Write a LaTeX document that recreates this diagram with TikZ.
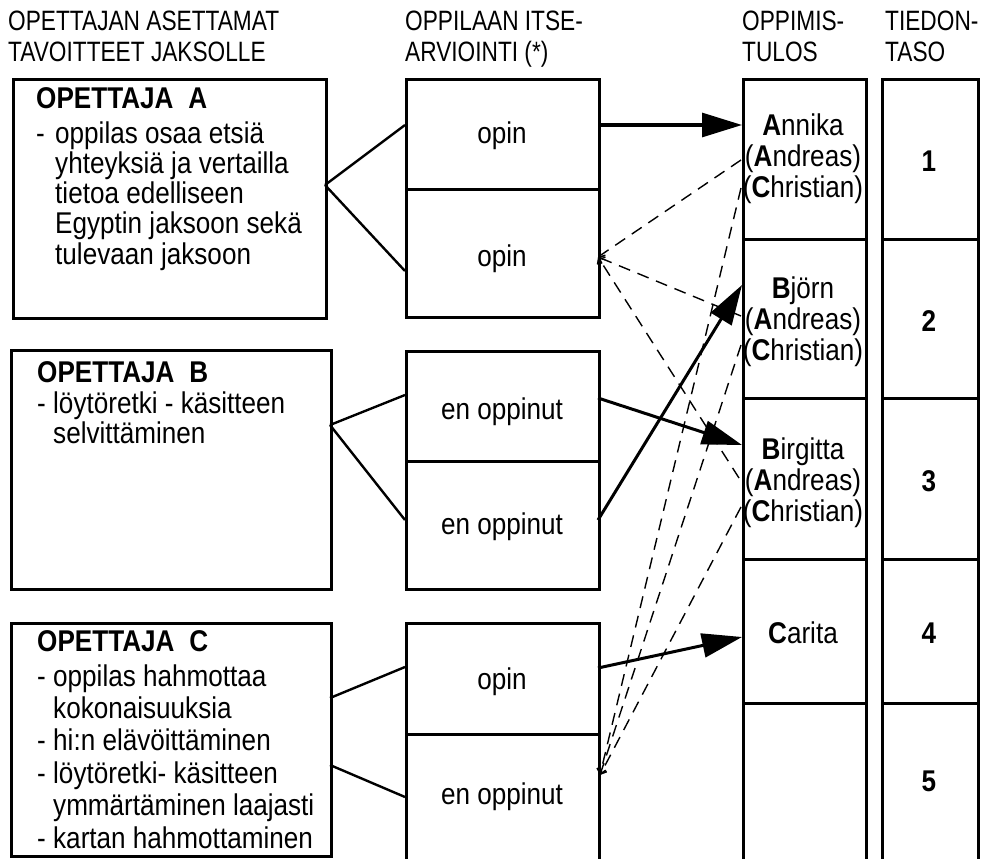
\documentclass[tikz,border=0pt]{standalone}
\usepackage{fontspec}
\setmainfont{Liberation Sans}[FakeStretch=0.87]
\newfontfamily\hdfont{Liberation Sans}[FakeStretch=0.81]
\usetikzlibrary{arrows.meta}

\begin{document}
\begin{tikzpicture}[x=1pt,y=-1pt,
  frame/.style={draw, line width=2.6pt, inner sep=0pt, anchor=north west},
  head/.style={font=\hdfont\fontsize{28}{31}\selectfont, anchor=base west, inner sep=0pt, align=left},
  body/.style={anchor=base west, inner sep=0pt, align=left},
  mid/.style={font=\fontsize{30}{31}\selectfont, anchor=base, inner sep=0pt},
  res/.style={font=\fontsize{30}{31}\selectfont, anchor=base, inner sep=0pt, align=center},
  lvl/.style={font=\bfseries\fontsize{30}{31}\selectfont, anchor=base, inner sep=0pt},
  link/.style={line width=2.4pt},
  big/.style={line width=3pt, -{Triangle[length=40pt,width=24pt]}},
  trace/.style={line width=1.4pt, dash pattern=on 12pt off 8pt, -{Straight Barb[length=5pt,width=9pt]}},
]
\useasboundingbox (0,0) rectangle (997,859);

% column headings (anchored at the baseline of their last line)
\node[head] (hgoal) at (8,62) {OPETTAJAN ASETTAMAT\\TAVOITTEET JAKSOLLE};
\node[head] (hself) at (405,62) {OPPILAAN ITSE-\\ARVIOINTI (*)};
\node[head] (hres) at (742,62) {OPPIMIS-\\TULOS};
\node[head] (hlvl) at (885,62) {TIEDON-\\TASO};

% teacher boxes
\node[frame, minimum width=313pt, minimum height=239pt] (ta) at (12,78) {};
\node[frame, minimum width=320pt, minimum height=239pt] (tb) at (10,349) {};
\node[frame, minimum width=320pt, minimum height=233pt] (tc) at (10,622) {};

\node[body, font=\fontsize{30}{30.25}\selectfont] (txa) at (36,264) {\textbf{OPETTAJA\hspace{0.5em}A}\\[4.75pt]
  \makebox[19pt][l]{-}oppilas osaa etsiä\\
  \hspace*{19pt}yhteyksiä ja vertailla\\
  \hspace*{19pt}tietoa edelliseen\\
  \hspace*{19pt}Egyptin jaksoon sekä\\
  \hspace*{19pt}tulevaan jaksoon};
\node[body, font=\fontsize{30}{30}\selectfont] (txb) at (37,443) {\textbf{OPETTAJA\hspace{0.5em}B}\\[1pt]
  \makebox[16pt][l]{-}löytöretki - käsitteen\\
  \hspace*{16pt}selvittäminen};
\node[body, font=\fontsize{30}{32.4}\selectfont] (txc) at (37,848) {\textbf{OPETTAJA\hspace{0.5em}C}\\[2.6pt]
  \makebox[16pt][l]{-}oppilas hahmottaa\\
  \hspace*{16pt}kokonaisuuksia\\
  \makebox[16pt][l]{-}hi:n elävöittäminen\\
  \makebox[16pt][l]{-}löytöretki- käsitteen\\
  \hspace*{16pt}ymmärtäminen laajasti\\
  \makebox[16pt][l]{-}kartan hahmottaminen};

% self-assessment boxes
\node[frame, minimum width=193pt, minimum height=110pt] (sa1) at (405,78) {};
\node[frame, minimum width=193pt, minimum height=128pt] (sa2) at (405,188) {};
\node[frame, minimum width=193pt, minimum height=110pt] (sb1) at (405,350) {};
\node[frame, minimum width=193pt, minimum height=128pt] (sb2) at (405,460) {};
\node[frame, minimum width=193pt, minimum height=111pt] (sc1) at (405,622) {};
\node[frame, minimum width=193pt, minimum height=150pt] (sc2) at (405,733) {};

\node[mid] (wa1) at (502,143) {opin};
\node[mid] (wa2) at (502,266) {opin};
\node[mid] (wb1) at (502,419) {en oppinut};
\node[mid] (wb2) at (502,534) {en oppinut};
\node[mid] (wc1) at (502,689) {opin};
\node[mid] (wc2) at (502,804) {en oppinut};

% learning outcome column
\node[frame, minimum width=123pt, minimum height=160pt] (r1) at (742,78) {};
\node[frame, minimum width=123pt, minimum height=159pt] (r2) at (742,238) {};
\node[frame, minimum width=123pt, minimum height=161pt] (r3) at (742,397) {};
\node[frame, minimum width=123pt, minimum height=144pt] (r4) at (742,558) {};
\node[frame, minimum width=123pt, minimum height=180pt] (r5) at (742,702) {};

\node[res] (n1) at (803,197) {\textbf{A}nnika\\(\textbf{A}ndreas)\\(\textbf{C}hristian)};
\node[res] (n2) at (803,360) {\textbf{B}jörn\\(\textbf{A}ndreas)\\(\textbf{C}hristian)};
\node[res] (n3) at (803,521) {\textbf{B}irgitta\\(\textbf{A}ndreas)\\(\textbf{C}hristian)};
\node[res] (n4) at (803,643) {\textbf{C}arita};

% knowledge level column
\node[frame, minimum width=96pt, minimum height=160pt] (l1) at (881,78) {};
\node[frame, minimum width=96pt, minimum height=159pt] (l2) at (881,238) {};
\node[frame, minimum width=96pt, minimum height=161pt] (l3) at (881,397) {};
\node[frame, minimum width=96pt, minimum height=144pt] (l4) at (881,558) {};
\node[frame, minimum width=96pt, minimum height=180pt] (l5) at (881,702) {};

\node[lvl] (k1) at (929,171) {1};
\node[lvl] (k2) at (929,331) {2};
\node[lvl] (k3) at (929,491) {3};
\node[lvl] (k4) at (929,643) {4};
\node[lvl] (k5) at (929,791) {5};

% connector ports
\coordinate (pa) at (325,185);
\coordinate (pb) at (330,425);
\coordinate (pc1) at (330,698);
\coordinate (pc2) at (330,765);
\coordinate (qa1) at (405,125);
\coordinate (qa2) at (405,271);
\coordinate (qb1) at (405,395);
\coordinate (qb2) at (405,520);
\coordinate (qc1) at (405,667);
\coordinate (qc2) at (405,797);

\coordinate (oa1) at (598,125);
\coordinate (oa2) at (598,257);
\coordinate (ob1) at (598,398);
\coordinate (ob2) at (598,520);
\coordinate (oc1) at (598,668);
\coordinate (oc2) at (600,775);

\coordinate (ea) at (742,125);
\coordinate (eb) at (742,285);
\coordinate (ec) at (742,445);
\coordinate (ed) at (742,637);

\coordinate (andA) at (741,160);
\coordinate (andB) at (741,316);
\coordinate (andC) at (739,478);
\coordinate (chrA) at (741,188);
\coordinate (chrB) at (741,345);
\coordinate (chrC) at (741,507);

% goals to self-assessment
\draw[link] (pa) -- (qa1);
\draw[link] (pa) -- (qa2);
\draw[link] (pb) -- (qb1);
\draw[link] (pb) -- (qb2);
\draw[link] (pc1) -- (qc1);
\draw[link] (pc2) -- (qc2);

% self-assessment to outcome
\draw[big] (oa1) -- (ea);
\draw[big] (ob2) -- (eb);
\draw[big] (ob1) -- (ec);
\draw[big] (oc1) -- (ed);

% traced students
\draw[trace] (andA) -- (oa2);
\draw[trace] (andB) -- (oa2);
\draw[trace] (andC) -- (oa2);
\draw[trace] (chrA) -- (oc2);
\draw[trace] (chrB) -- (oc2);
\draw[trace] (chrC) -- (oc2);
\end{tikzpicture}
\end{document}
